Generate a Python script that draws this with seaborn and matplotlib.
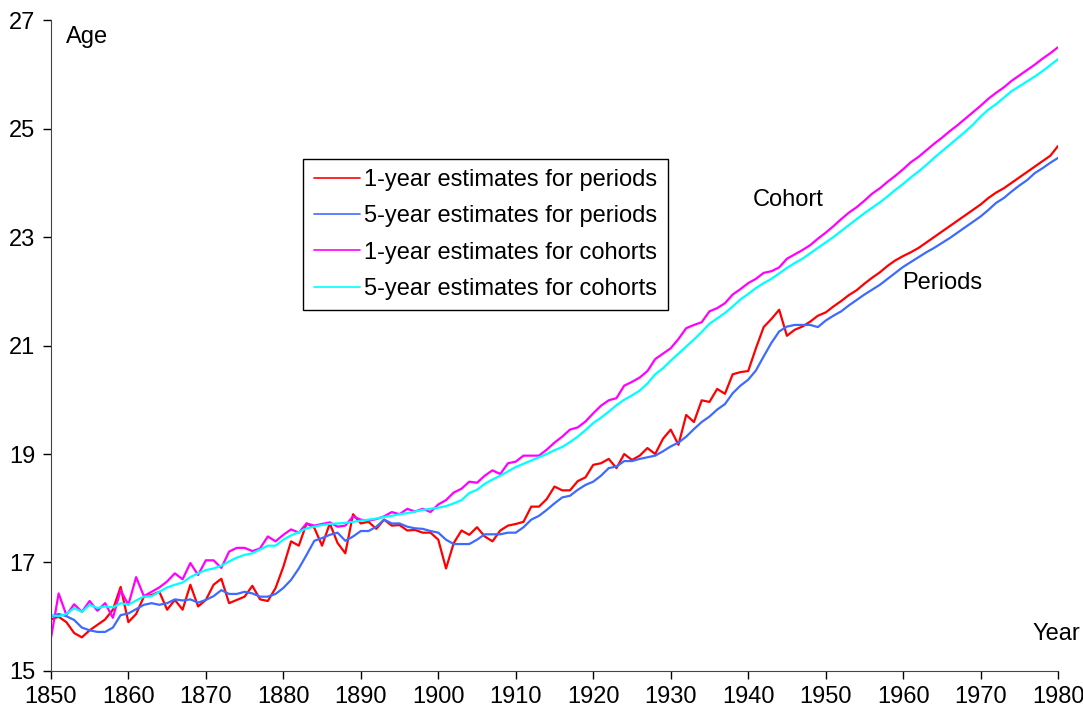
import numpy as np
import pandas as pd
import matplotlib
matplotlib.use("Agg")
import matplotlib.pyplot as plt
import seaborn as sns

years = list(range(1850, 1981))

# 1-year estimates for periods
period_1yr = [
    15.95, 16.00, 15.90, 15.70, 15.62, 15.75, 15.85, 15.95, 16.13, 16.55,
    15.90, 16.05, 16.37, 16.40, 16.46, 16.13, 16.31, 16.13, 16.59, 16.19,
    16.31, 16.59, 16.70, 16.25, 16.31, 16.37, 16.57, 16.32, 16.29, 16.53,
    16.92, 17.39, 17.31, 17.72, 17.64, 17.31, 17.72, 17.36, 17.17, 17.89,
    17.72, 17.75, 17.62, 17.79, 17.68, 17.69, 17.59, 17.60, 17.55, 17.55,
    17.42, 16.89, 17.36, 17.59, 17.51, 17.65, 17.48, 17.39, 17.59, 17.68,
    17.71, 17.75, 18.03, 18.03, 18.17, 18.40, 18.33, 18.33, 18.50, 18.57,
    18.80, 18.83, 18.91, 18.74, 19.00, 18.89, 18.97, 19.11, 19.00, 19.28,
    19.45, 19.17, 19.72, 19.59, 19.99, 19.96, 20.20, 20.11, 20.47, 20.51,
    20.53, 20.95, 21.34, 21.49, 21.66, 21.18, 21.29, 21.35, 21.44, 21.55,
    21.61, 21.72, 21.82, 21.93, 22.02, 22.14, 22.25, 22.35, 22.47, 22.57,
    22.65, 22.72, 22.80, 22.90, 23.00, 23.10, 23.20, 23.30, 23.40, 23.50,
    23.60, 23.72, 23.82, 23.90, 24.00, 24.10, 24.20, 24.30, 24.40, 24.50,
    24.68,
]

# 5-year estimates for periods
period_5yr = [
    16.01, 16.05, 16.01, 15.94, 15.80, 15.75, 15.72, 15.72, 15.80, 16.03,
    16.06, 16.14, 16.22, 16.25, 16.22, 16.25, 16.32, 16.30, 16.32, 16.26,
    16.31, 16.38, 16.49, 16.42, 16.42, 16.46, 16.43, 16.37, 16.37, 16.42,
    16.53, 16.68, 16.89, 17.14, 17.40, 17.45, 17.51, 17.55, 17.40, 17.48,
    17.58, 17.58, 17.66, 17.79, 17.72, 17.72, 17.66, 17.63, 17.62, 17.58,
    17.55, 17.42, 17.34, 17.34, 17.34, 17.42, 17.52, 17.52, 17.52, 17.55,
    17.55, 17.65, 17.79, 17.86, 17.97, 18.09, 18.20, 18.23, 18.34, 18.43,
    18.49, 18.60, 18.74, 18.77, 18.87, 18.87, 18.91, 18.94, 18.97, 19.05,
    19.14, 19.21, 19.32, 19.46, 19.59, 19.69, 19.82, 19.92, 20.12, 20.26,
    20.37, 20.54, 20.80, 21.05, 21.26, 21.35, 21.38, 21.38, 21.38, 21.34,
    21.46, 21.55, 21.63, 21.74, 21.84, 21.94, 22.03, 22.12, 22.23, 22.34,
    22.45, 22.54, 22.63, 22.72, 22.80, 22.89, 22.98, 23.08, 23.18, 23.28,
    23.38, 23.50, 23.63, 23.72, 23.84, 23.95, 24.05, 24.18, 24.27, 24.37,
    24.46,
]

# 1-year estimates for cohorts
cohort_1yr = [
    15.60, 16.43, 16.03, 16.23, 16.09, 16.29, 16.11, 16.25, 15.98, 16.49,
    16.22, 16.73, 16.38, 16.46, 16.54, 16.65, 16.80, 16.69, 16.99, 16.77,
    17.04, 17.04, 16.90, 17.20, 17.27, 17.27, 17.21, 17.26, 17.48, 17.39,
    17.51, 17.61, 17.55, 17.72, 17.68, 17.71, 17.74, 17.66, 17.68, 17.85,
    17.79, 17.77, 17.80, 17.85, 17.93, 17.89, 17.99, 17.94, 17.99, 17.93,
    18.07, 18.15, 18.29, 18.36, 18.49, 18.47, 18.60, 18.70, 18.63, 18.83,
    18.86, 18.97, 18.97, 18.97, 19.08, 19.21, 19.32, 19.45, 19.49, 19.60,
    19.75, 19.89, 19.99, 20.03, 20.26, 20.33, 20.41, 20.53, 20.75, 20.85,
    20.95, 21.12, 21.32, 21.38, 21.43, 21.63, 21.69, 21.78, 21.94, 22.04,
    22.15, 22.23, 22.34, 22.37, 22.44, 22.60, 22.68, 22.76, 22.85, 22.97,
    23.08, 23.20, 23.33, 23.45, 23.55, 23.67, 23.80, 23.90, 24.02, 24.13,
    24.25, 24.38, 24.48, 24.60, 24.72, 24.83, 24.95, 25.06, 25.18, 25.30,
    25.42, 25.55, 25.66, 25.76, 25.88, 25.98, 26.08, 26.18, 26.29, 26.39,
    26.50,
]

# 5-year estimates for cohorts
cohort_5yr = [
    16.03, 16.01, 16.05, 16.16, 16.09, 16.22, 16.16, 16.19, 16.17, 16.25,
    16.22, 16.30, 16.37, 16.38, 16.46, 16.54, 16.59, 16.63, 16.73, 16.80,
    16.86, 16.89, 16.94, 17.02, 17.09, 17.14, 17.17, 17.24, 17.31, 17.31,
    17.42, 17.50, 17.56, 17.63, 17.66, 17.69, 17.71, 17.72, 17.73, 17.75,
    17.77, 17.79, 17.81, 17.84, 17.86, 17.89, 17.91, 17.94, 17.97, 17.99,
    18.01, 18.04, 18.09, 18.15, 18.28, 18.34, 18.45, 18.53, 18.60, 18.68,
    18.76, 18.82, 18.88, 18.94, 19.00, 19.07, 19.13, 19.22, 19.32, 19.44,
    19.57, 19.67, 19.78, 19.90, 20.00, 20.08, 20.17, 20.30, 20.47, 20.58,
    20.72, 20.85, 20.98, 21.11, 21.25, 21.40, 21.50, 21.60, 21.72, 21.85,
    21.95, 22.06, 22.15, 22.23, 22.33, 22.43, 22.52, 22.60, 22.70, 22.80,
    22.90, 23.00, 23.11, 23.22, 23.33, 23.44, 23.54, 23.64, 23.75, 23.87,
    23.98, 24.10, 24.21, 24.33, 24.46, 24.58, 24.70, 24.82, 24.94, 25.07,
    25.22, 25.35, 25.45, 25.57, 25.69, 25.78, 25.87, 25.96, 26.06, 26.17,
    26.28,
]

series_names = [
    "1-year estimates for periods",
    "5-year estimates for periods",
    "1-year estimates for cohorts",
    "5-year estimates for cohorts",
]
colors = ["#FF0000", "#3D6BFF", "#FF00FF", "#00FFFF"]

frames = []
for name, vals in zip(series_names, [period_1yr, period_5yr, cohort_1yr, cohort_5yr]):
    frames.append(pd.DataFrame({"Year": years, "Age": vals, "series": name}))
df = pd.concat(frames, ignore_index=True)

sns.set_style("ticks")
plt.rcParams["font.family"] = ["Liberation Sans", "DejaVu Sans"]
plt.rcParams["text.color"] = "black"

fig = plt.figure(figsize=(10.83, 7.18), dpi=100)
ax = fig.add_axes([0.047, 0.0655, 0.930, 0.9065])

sns.lineplot(data=df, x="Year", y="Age", hue="series", hue_order=series_names,
             palette=dict(zip(series_names, colors)), linewidth=1.6, ax=ax)

ax.set_xlim(1850, 1980)
ax.set_ylim(15, 27)
ax.set_xticks(range(1850, 1981, 10))
ax.set_yticks(range(15, 28, 2))
ax.tick_params(axis="both", labelsize=17, length=6, width=1, direction="out",
               colors="black", pad=5)
ax.set_xlabel("")
ax.set_ylabel("")
for side in ["top", "right"]:
    ax.spines[side].set_visible(False)
for side in ["left", "bottom"]:
    ax.spines[side].set_color("#444444")

ax.text(1854.7, 26.68, "Age", fontsize=17, ha="center", va="center", color="black")
ax.text(1979.8, 15.68, "Year", fontsize=17, ha="center", va="center", color="black")
ax.text(1945.1, 23.69, "Cohort", fontsize=17, ha="center", va="center", color="black")
ax.text(1965.0, 22.16, "Periods", fontsize=17, ha="center", va="center", color="black")

handles, labels = ax.get_legend_handles_labels()
for h in handles:
    h.set_linewidth(1.2)
leg = ax.legend(handles, labels, loc="upper left", bbox_to_anchor=(0.2798, 0.779),
                bbox_transform=fig.transFigure, fontsize=17, frameon=True,
                fancybox=False, edgecolor="black", framealpha=1,
                handlelength=1.95, handletextpad=0.2, labelspacing=0.6,
                borderpad=0.45, borderaxespad=0)
leg.get_frame().set_linewidth(1.0)
for t in leg.get_texts():
    t.set_color("black")

fig.savefig("out.png", dpi=100)
